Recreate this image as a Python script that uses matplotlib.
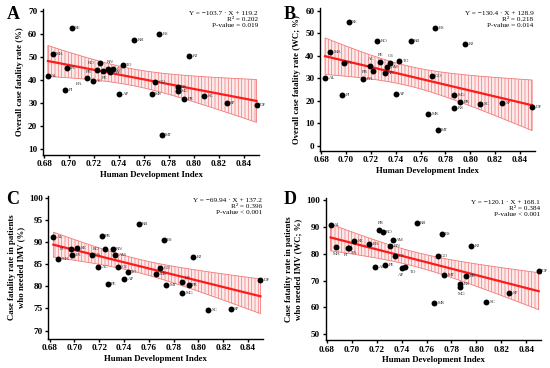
import matplotlib
matplotlib.use("Agg")
import matplotlib.pyplot as plt
import numpy as np

plt.rcParams['font.family'] = ['Liberation Serif', 'DejaVu Serif']
plt.rcParams['hatch.linewidth'] = 0.5

# Brazilian states and their HDI
states = ["AL", "MA", "PI", "PA", "SE", "BA", "AC", "PB", "RO", "PE", "RN", "AM", "CE", "AP",
          "TO", "RR", "MS", "GO", "ES", "MT", "RS", "MG", "PR", "RJ", "SC", "SP", "DF"]
hdi = [0.683, 0.687, 0.697, 0.698, 0.702, 0.714, 0.719, 0.722, 0.725, 0.727, 0.731, 0.733, 0.735, 0.740,
       0.743, 0.752, 0.766, 0.769, 0.772, 0.774, 0.787, 0.787, 0.792, 0.796, 0.808, 0.826, 0.850]

cfr_overall = [41.9, 51.6, 36.0, 45.3, 62.7, 40.8, 39.6, 44.4, 47.4, 44.2, 45.0, 43.6, 45.0, 33.9,
               46.5, 57.3, 33.9, 39.1, 60.2, 16.3, 37.3, 35.3, 31.9, 50.4, 33.3, 30.1, 29.3]
cfr_overall_wc = [30.0, 41.8, 22.8, 36.8, 55.0, 29.6, 35.3, 33.4, 46.6, 37.3, 32.4, 35.0, 36.8, 23.1,
                  37.8, 46.4, 14.2, 31.0, 52.5, 7.3, 16.7, 22.5, 19.7, 45.1, 18.5, 19.2, 17.5]
cfr_imv = [91.2, 86.2, 88.5, 87.1, 88.6, 87.0, 84.3, 91.3, 88.4, 80.5, 88.4, 87.2, 84.3, 81.6,
           83.2, 94.0, 82.8, 84.2, 90.5, 80.2, 80.9, 78.5, 80.2, 86.6, 74.7, 74.9, 81.5]
cfr_imv_wc = [90.7, 82.6, 82.0, 82.0, 84.7, 83.5, 75.2, 88.8, 88.2, 75.9, 82.8, 85.3, 79.1, 74.8,
              75.1, 91.4, 61.8, 79.0, 87.2, 71.9, 68.8, 67.7, 71.8, 82.7, 61.9, 65.4, 73.5]

slopes = [-103.7, -130.4, -69.94, -120.1]
intercepts = [119.2, 128.9, 137.2, 168.1]
r2_text = ["0.202", "0.218", "0.396", "0.384"]
p_text = ["P-value = 0.019", "P-value = 0.014", "P-value < 0.001", "P-value < 0.001"]

panels = [
    ("A", cfr_overall, "Overall case fatality rate (%)", (10, 70, 10), (7.8, 71)),
    ("B", cfr_overall_wc, "Overall case fatality rate (WC; %)", (0, 60, 10), (-2, 61)),
    ("C", cfr_imv, "Case fatality rate in patients\nwho needed IMV (%)", (70, 100, 5), (68.1, 100.5)),
    ("D", cfr_imv_wc, "Case fatality rate in patients\nwho needed IMV (WC; %)", (50, 100, 10), (47.8, 100.8)),
]

positions = [
    [0.078, 0.580, 0.393, 0.396],
    [0.582, 0.591, 0.390, 0.386],
    [0.088, 0.079, 0.390, 0.389],
    [0.592, 0.076, 0.392, 0.386],
]
letter_pos = [(0.012, 0.985), (0.515, 0.985), (0.012, 0.482), (0.515, 0.482)]

# label offsets (points) that differ from the default "to the right"
label_offsets = [
    {"RO": (-9, 0), "PB": (-8, -1), "PE": (-1, -5), "RN": (-1, 5), "BA": (-8, -4)},
    {"AC": (-1, 5), "PE": (-1, 5), "CE": (-1, 5), "PB": (-8, -1)},
    {"PI": (-8, 0), "RO": (-9, 0), "RS": (2, 3)},
    {"MA": (-2, -5), "PI": (-3, -5), "PB": (-1, 5), "AP": (-3, -5), "TO": (3, -4), "MG": (-2, -5), "PA": (2, -3)},
]

fig = plt.figure(figsize=(5.5, 3.68), dpi=100)
x = np.array(hdi)
n = len(x)
t_crit = 2.060
xs = np.linspace(0.683, 0.850, 200)

for i, (letter, vals, ylab, yt, ylims) in enumerate(panels):
    ax = fig.add_axes(positions[i])
    y = np.array(vals)
    a, b = slopes[i], intercepts[i]

    # 95% confidence band of the regression line
    resid = y - (a * x + b)
    s = np.sqrt(np.sum(resid ** 2) / (n - 2))
    sxx = np.sum((x - x.mean()) ** 2)
    se = s * np.sqrt(1.0 / n + (xs - x.mean()) ** 2 / sxx)
    fit = a * xs + b
    ax.fill_between(xs, fit - t_crit * se, fit + t_crit * se, facecolor="#fdeaea",
                    edgecolor="#f27a7a", hatch="|||||", linewidth=0.6, zorder=1)
    ax.plot(xs, fit, color="#ff1a1a", lw=1.6, zorder=2)

    ax.scatter(x, y, s=18, color="black", zorder=3, linewidths=0)
    for st, xv, yv in zip(states, x, y):
        dx, dy = label_offsets[i].get(st, (2.5, 0))
        ax.annotate(st, (xv, yv), xytext=(dx, dy), textcoords="offset points",
                    fontsize=3.5, color="#333333", va="center", ha="left", zorder=4)

    ax.set_xlim(0.679, 0.852)
    ax.set_ylim(*ylims)
    ax.set_xticks(np.arange(0.68, 0.8401, 0.02))
    ax.set_xticklabels([f"{v:.2f}" for v in np.arange(0.68, 0.8401, 0.02)])
    ax.set_yticks(np.arange(yt[0], yt[1] + 0.1, yt[2]))
    for sp in ["top", "right"]:
        ax.spines[sp].set_visible(False)
    for sp in ["left", "bottom"]:
        ax.spines[sp].set_linewidth(1.0)
    ax.tick_params(length=2.5, width=1.0, labelsize=6.6, pad=1.5)
    for lab in ax.get_xticklabels() + ax.get_yticklabels():
        lab.set_fontweight("bold")
    ax.set_xlabel("Human Development Index", fontsize=6.3, fontweight="bold", labelpad=2)
    ax.set_ylabel(ylab, fontsize=6.3, fontweight="bold", labelpad=3, linespacing=1.1)

    sign = "\u2212"
    eq = f"Y = {sign}{abs(a)} \u00b7 X + {b}"
    ax.text(0.995, 0.985, eq + "\nR\u00b2 = " + r2_text[i] + "\n" + p_text[i],
            transform=ax.transAxes, ha="right", va="top", fontsize=5.2, linespacing=1.25)

    fig.text(letter_pos[i][0], letter_pos[i][1], letter, fontsize=13,
             fontweight="bold", va="top", ha="left")

fig.savefig("out.png", dpi=100)
